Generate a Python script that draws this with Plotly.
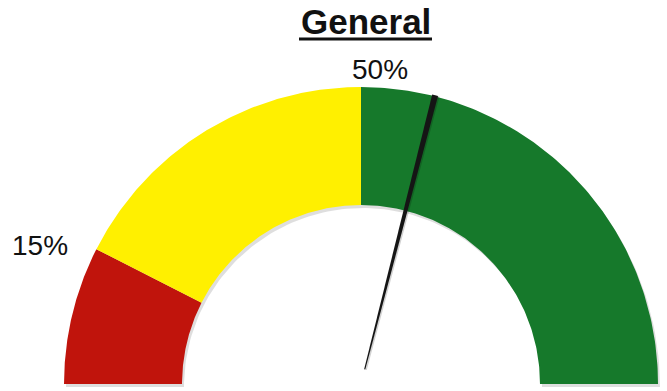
import numpy as np
import plotly.graph_objects as go

# Gauge bands (percent) and needle reading
band_edges = [0, 15, 50, 100]
band_colors = ["#C0140C", "#FFF000", "#16792B"]
needle_value = 58
edge_labels = ["15%", "50%"]
title_text = "General"

W, H = 667, 391
cx, cy = 361, 7          # gauge centre in plot units
r_out, r_in = 297, 179   # ring radii


def ang(v):
    return np.pi * (1 - v / 100.0)


def band_path(v0, v1, dx=0.0, dy=0.0):
    t = np.linspace(ang(v0), ang(v1), 120)
    xs = np.concatenate([cx + r_out * np.cos(t), cx + r_in * np.cos(t[::-1])]) + dx
    ys = np.concatenate([cy + r_out * np.sin(t), cy + r_in * np.sin(t[::-1])]) + dy
    return np.append(xs, xs[0]), np.append(ys, ys[0])


fig = go.Figure()

# soft drop shadow under the ring
sx, sy = band_path(band_edges[0], band_edges[-1], 2, -3)
fig.add_trace(go.Scatter(x=sx, y=sy, fill="toself", mode="lines",
                         line=dict(width=0), fillcolor="rgba(0,0,0,0.13)",
                         hoverinfo="skip", showlegend=False))

for i, col in enumerate(band_colors):
    bx, by = band_path(band_edges[i], band_edges[i + 1])
    fig.add_trace(go.Scatter(x=bx, y=by, fill="toself", mode="lines",
                             line=dict(width=0), fillcolor=col,
                             hoverinfo="skip", showlegend=False))

# needle: tapered wedge, narrow at the hub and widest at the tip
a = ang(needle_value)
ux, uy = np.cos(a), np.sin(a)
px, py = -uy, ux
r0, r1 = 15, 298
w0, w1 = 0.6, 3.0
nx = [cx + r0 * ux + w0 * px, cx + r1 * ux + w1 * px,
      cx + r1 * ux - w1 * px, cx + r0 * ux - w0 * px]
ny = [cy + r0 * uy + w0 * py, cy + r1 * uy + w1 * py,
      cy + r1 * uy - w1 * py, cy + r0 * uy - w0 * py]
fig.add_trace(go.Scatter(x=[v + 1.5 for v in nx] + [nx[0] + 1.5],
                         y=[v - 0.5 for v in ny] + [ny[0] - 0.5],
                         fill="toself", mode="lines", line=dict(width=0),
                         fillcolor="rgba(0,0,0,0.18)", hoverinfo="skip",
                         showlegend=False))
fig.add_trace(go.Scatter(x=nx + [nx[0]], y=ny + [ny[0]], fill="toself",
                         mode="lines", line=dict(width=0),
                         fillcolor="#151515", hoverinfo="skip",
                         showlegend=False))

label_font = dict(family="Liberation Sans, Arial, sans-serif", size=28,
                  color="#111111")
fig.add_annotation(x=39.5, y=H - 245.5, text=edge_labels[0], showarrow=False,
                   font=label_font, xanchor="center", yanchor="middle")
fig.add_annotation(x=380, y=H - 69, text=edge_labels[1], showarrow=False,
                   font=label_font, xanchor="center", yanchor="middle")

# title with underline
fig.add_annotation(x=366, y=H - 21, text="<b>%s</b>" % title_text,
                   showarrow=False, xanchor="center", yanchor="middle",
                   font=dict(family="Liberation Sans, Arial, sans-serif",
                             size=35, color="#111111"))
fig.add_shape(type="line", x0=299, x1=432, y0=H - 39, y1=H - 39,
              line=dict(color="#111111", width=3))

fig.update_layout(
    width=W, height=H,
    margin=dict(l=0, r=0, t=0, b=0),
    paper_bgcolor="white", plot_bgcolor="white",
    xaxis=dict(range=[0, W], visible=False, fixedrange=True),
    yaxis=dict(range=[0, H], visible=False, fixedrange=True),
    showlegend=False,
)

fig.write_html("out.html")
